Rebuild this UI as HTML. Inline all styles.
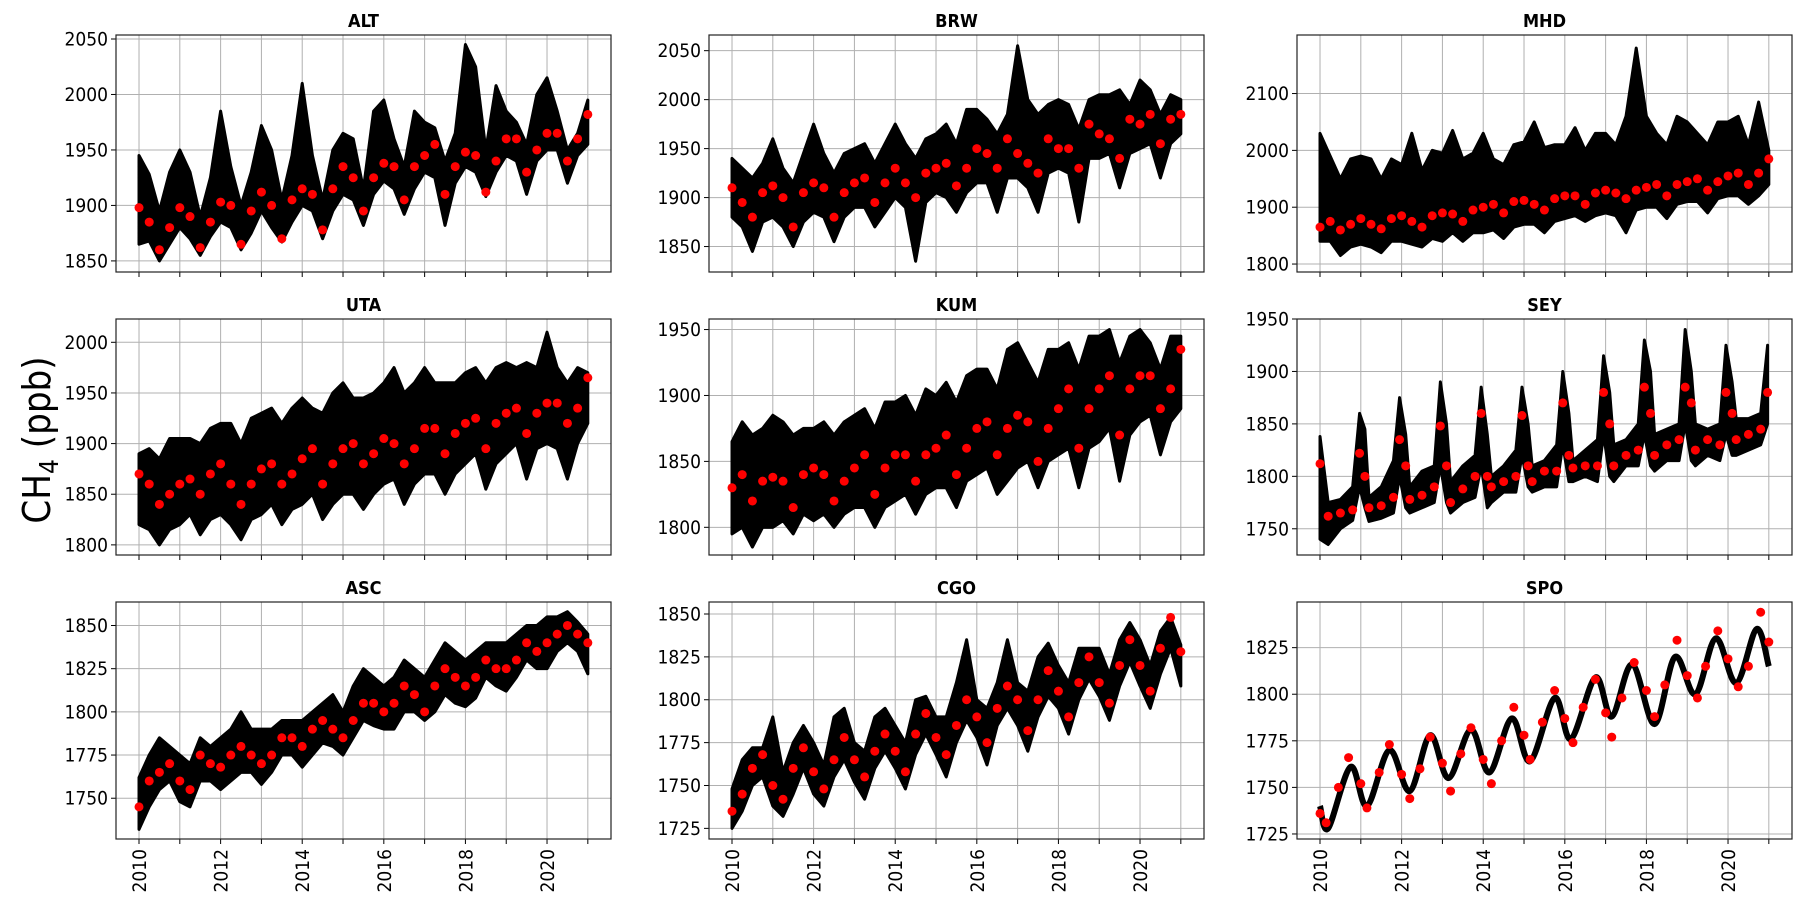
<!DOCTYPE html>
<html><head><meta charset="utf-8">
<style>
html,body{margin:0;padding:0;background:#fff;}
svg{display:block;}
text{font-family:"DejaVu Sans Condensed","Liberation Sans",sans-serif;fill:#000;}
</style></head>
<body>
<svg id="fig" width="1805" height="910" viewBox="0 0 1805 910">
<text x="0" y="0" transform="translate(50,440) rotate(-90)" text-anchor="middle" font-size="38">CH<tspan font-size="26" dy="8">4</tspan><tspan dy="-8"> (ppb)</tspan></text>
</svg>
<script>
// ---------- data ----------
const quarterTimes=[2010,2010.25,2010.5,2010.75,2011,2011.25,2011.5,2011.75,2012,2012.25,2012.5,2012.75,2013,2013.25,2013.5,2013.75,2014,2014.25,2014.5,2014.75,2015,2015.25,2015.5,2015.75,2016,2016.25,2016.5,2016.75,2017,2017.25,2017.5,2017.75,2018,2018.25,2018.5,2018.75,2019,2019.25,2019.5,2019.75,2020,2020.25,2020.5,2020.75,2021];
const yearTicks=[2010,2011,2012,2013,2014,2015,2016,2017,2018,2019,2020,2021];
const yearLabels=["2010","","2012","","2014","","2016","","2018","","2020",""];

const altRed=[1898,1885,1860,1880,1898,1890,1862,1885,1903,1900,1865,1895,1912,1900,1870,1905,1915,1910,1878,1915,1935,1925,1895,1925,1938,1935,1905,1935,1945,1955,1910,1935,1948,1945,1912,1940,1960,1960,1930,1950,1965,1965,1940,1960,1982];
const altHi=[1945,1928,1895,1930,1950,1930,1890,1925,1985,1935,1900,1930,1972,1950,1905,1945,2010,1945,1905,1950,1965,1960,1915,1985,1995,1960,1935,1985,1975,1970,1940,1965,2045,2025,1950,2008,1985,1975,1955,2000,2015,1985,1950,1965,1995];
const altLo=[1865,1868,1850,1865,1880,1870,1855,1872,1885,1880,1860,1875,1895,1880,1867,1885,1900,1895,1870,1895,1910,1905,1882,1910,1922,1915,1892,1915,1930,1925,1882,1920,1935,1930,1908,1930,1945,1940,1910,1940,1950,1950,1920,1945,1955];

const brwRed=[1910,1895,1880,1905,1912,1900,1870,1905,1915,1910,1880,1905,1915,1920,1895,1915,1930,1915,1900,1925,1930,1935,1912,1930,1950,1945,1930,1960,1945,1935,1925,1960,1950,1950,1930,1975,1965,1960,1940,1980,1975,1985,1955,1980,1985];
const brwHi=[1940,1930,1920,1935,1960,1930,1915,1945,1975,1945,1925,1945,1950,1955,1935,1955,1975,1955,1940,1960,1965,1975,1955,1990,1990,1980,1965,1985,2055,2000,1985,1995,2000,1995,1970,2000,2005,2005,2010,1995,2020,2010,1985,2005,2000];
const brwLo=[1880,1870,1845,1875,1880,1870,1850,1875,1885,1880,1855,1880,1890,1890,1870,1885,1900,1890,1835,1895,1905,1900,1885,1905,1915,1915,1885,1920,1920,1910,1885,1925,1930,1925,1875,1940,1940,1945,1910,1945,1950,1955,1920,1955,1965];

const mhdRed=[1865,1875,1860,1870,1880,1870,1862,1880,1885,1875,1865,1885,1890,1888,1875,1895,1900,1905,1890,1910,1912,1905,1895,1915,1920,1920,1905,1925,1930,1925,1915,1930,1935,1940,1920,1940,1945,1950,1930,1945,1955,1960,1940,1960,1985];
const mhdHi=[2030,1990,1950,1985,1990,1985,1950,1985,1975,2030,1965,2000,1995,2035,1985,1995,2030,1985,1975,2010,2015,2050,2005,2010,2010,2040,2000,2030,2030,2010,2060,2180,2060,2030,2010,2060,2050,2030,2010,2050,2050,2060,2010,2085,2000];
const mhdLo=[1840,1840,1815,1830,1835,1830,1820,1840,1840,1835,1830,1845,1840,1855,1840,1855,1855,1860,1845,1865,1870,1870,1855,1875,1880,1885,1875,1885,1890,1885,1855,1895,1900,1900,1880,1905,1910,1910,1890,1915,1920,1920,1905,1920,1940];

const utaRed=[1870,1860,1840,1850,1860,1865,1850,1870,1880,1860,1840,1860,1875,1880,1860,1870,1885,1895,1860,1880,1895,1900,1880,1890,1905,1900,1880,1895,1915,1915,1890,1910,1920,1925,1895,1920,1930,1935,1910,1930,1940,1940,1920,1935,1965];
const utaHi=[1890,1895,1885,1905,1905,1905,1900,1915,1920,1920,1900,1925,1930,1935,1920,1935,1945,1935,1930,1950,1960,1945,1945,1950,1960,1975,1950,1960,1975,1960,1960,1960,1970,1975,1960,1975,1980,1975,1980,1975,2010,1975,1960,1975,1970];
const utaLo=[1820,1815,1800,1815,1820,1830,1810,1825,1830,1820,1805,1825,1830,1840,1820,1835,1840,1850,1825,1840,1850,1850,1835,1850,1860,1865,1840,1860,1870,1870,1850,1870,1880,1890,1855,1880,1890,1900,1865,1895,1900,1895,1865,1900,1920];

const kumRed=[1830,1840,1820,1835,1838,1835,1815,1840,1845,1840,1820,1835,1845,1855,1825,1845,1855,1855,1835,1855,1860,1870,1840,1860,1875,1880,1855,1875,1885,1880,1850,1875,1890,1905,1860,1890,1905,1915,1870,1905,1915,1915,1890,1905,1935];
const kumHi=[1865,1880,1870,1875,1885,1880,1870,1875,1875,1880,1870,1880,1885,1890,1875,1895,1895,1900,1885,1905,1900,1910,1895,1915,1920,1920,1905,1935,1940,1925,1910,1935,1935,1940,1920,1945,1945,1950,1925,1945,1950,1940,1920,1945,1945];
const kumLo=[1795,1800,1785,1800,1800,1805,1795,1810,1805,1810,1800,1810,1815,1815,1800,1815,1820,1825,1810,1825,1830,1830,1815,1835,1840,1845,1825,1835,1845,1850,1830,1850,1855,1860,1830,1860,1865,1875,1835,1870,1880,1885,1855,1880,1890];

const seyTimes=[2010,2010.2,2010.5,2010.8,2010.97,2011.1,2011.2,2011.5,2011.8,2011.95,2012.1,2012.2,2012.5,2012.8,2012.95,2013.1,2013.2,2013.5,2013.8,2013.95,2014.1,2014.2,2014.5,2014.8,2014.95,2015.1,2015.2,2015.5,2015.8,2015.95,2016.1,2016.2,2016.5,2016.8,2016.95,2017.1,2017.2,2017.5,2017.8,2017.95,2018.1,2018.2,2018.5,2018.8,2018.95,2019.1,2019.2,2019.5,2019.8,2019.95,2020.1,2020.2,2020.5,2020.8,2020.97];
const seyRed=[1812,1762,1765,1768,1822,1800,1770,1772,1780,1835,1810,1778,1782,1790,1848,1810,1775,1788,1800,1860,1800,1790,1795,1800,1858,1810,1795,1805,1805,1870,1820,1808,1810,1810,1880,1850,1810,1820,1825,1885,1860,1820,1830,1835,1885,1870,1825,1835,1830,1880,1860,1835,1840,1845,1880];
const seyHi=[1838,1775,1778,1790,1860,1845,1780,1790,1815,1875,1840,1790,1805,1810,1890,1850,1795,1810,1820,1885,1840,1800,1810,1825,1885,1850,1810,1815,1830,1900,1860,1815,1825,1835,1915,1880,1830,1835,1850,1930,1900,1840,1845,1850,1940,1900,1850,1845,1850,1925,1890,1855,1855,1860,1925];
const seyLo=[1740,1735,1750,1758,1790,1770,1757,1760,1765,1800,1770,1765,1770,1775,1810,1775,1765,1775,1780,1810,1770,1775,1785,1785,1820,1790,1785,1790,1790,1830,1795,1795,1800,1795,1840,1800,1795,1810,1810,1840,1810,1805,1815,1815,1850,1815,1810,1820,1815,1840,1820,1820,1825,1830,1850];

const ascRed=[1745,1760,1765,1770,1760,1755,1775,1770,1768,1775,1780,1775,1770,1775,1785,1785,1780,1790,1795,1790,1785,1795,1805,1805,1800,1805,1815,1810,1800,1815,1825,1820,1815,1820,1830,1825,1825,1830,1840,1835,1840,1845,1850,1845,1840];
const ascHi=[1762,1775,1785,1780,1775,1770,1785,1780,1785,1790,1800,1790,1790,1790,1795,1795,1795,1800,1805,1810,1800,1815,1825,1820,1815,1820,1830,1825,1820,1830,1840,1835,1830,1835,1840,1840,1840,1845,1850,1850,1855,1855,1858,1852,1845];
const ascLo=[1732,1745,1755,1760,1748,1745,1760,1760,1755,1760,1765,1765,1758,1765,1775,1775,1768,1775,1782,1780,1775,1785,1795,1792,1790,1790,1800,1800,1795,1800,1810,1805,1803,1808,1820,1815,1812,1820,1830,1825,1825,1835,1840,1835,1822];

const cgoRed=[1735,1745,1760,1768,1750,1742,1760,1772,1758,1748,1765,1778,1765,1755,1770,1780,1770,1758,1780,1792,1778,1768,1785,1800,1790,1775,1795,1808,1800,1782,1800,1817,1805,1790,1810,1825,1810,1798,1820,1835,1820,1805,1830,1848,1828];
const cgoHi=[1748,1765,1772,1772,1790,1758,1775,1785,1775,1762,1790,1795,1775,1770,1790,1795,1785,1775,1800,1802,1790,1790,1810,1835,1800,1795,1810,1835,1810,1805,1825,1833,1820,1810,1830,1830,1830,1815,1835,1845,1835,1820,1840,1848,1832];
const cgoLo=[1725,1735,1750,1755,1738,1732,1745,1760,1745,1738,1755,1765,1752,1742,1760,1770,1760,1748,1768,1780,1768,1755,1775,1788,1778,1762,1785,1795,1785,1770,1790,1802,1795,1780,1800,1812,1802,1788,1808,1822,1808,1795,1815,1830,1808];

const spoLineTimes=[2010,2010.2,2010.75,2011.15,2011.7,2012.2,2012.7,2013.15,2013.7,2014.15,2014.7,2015.15,2015.75,2016.15,2016.75,2017.15,2017.65,2018.2,2018.7,2019.2,2019.7,2020.2,2020.7,2021];
const spoLine=[1740,1728,1761,1740,1770,1748,1778,1755,1781,1758,1787,1764,1798,1776,1809,1788,1816,1784,1820,1800,1830,1806,1835,1815];
const spoRedTimes=[2010,2010.15,2010.45,2010.7,2011.0,2011.15,2011.45,2011.7,2012.0,2012.2,2012.45,2012.7,2013.0,2013.2,2013.45,2013.7,2014.0,2014.2,2014.45,2014.75,2015.0,2015.15,2015.45,2015.75,2016.0,2016.2,2016.45,2016.75,2017.0,2017.15,2017.4,2017.7,2018.0,2018.2,2018.45,2018.75,2019.0,2019.25,2019.45,2019.75,2020.0,2020.25,2020.5,2020.8,2021.0];
const spoRed=[1736,1731,1750,1766,1752,1739,1758,1773,1757,1744,1760,1777,1763,1748,1768,1782,1765,1752,1775,1793,1778,1765,1785,1802,1787,1774,1793,1808,1790,1777,1798,1817,1802,1788,1805,1829,1810,1798,1815,1834,1819,1804,1815,1844,1828];

// ---------- layout ----------
const W=495;
const colX=[116,709,1297];
const rowY=[[35,272],[319,555],[602,839]];
const X0=2009.436, X1=2021.568;
const panels=[
 {name:"ALT",c:0,r:0,ymin:1840,ymax:2053.6,ticks:[1850,1900,1950,2000,2050],t:quarterTimes,red:altRed,hi:altHi,lo:altLo},
 {name:"BRW",c:1,r:0,ymin:1824,ymax:2066,ticks:[1850,1900,1950,2000,2050],t:quarterTimes,red:brwRed,hi:brwHi,lo:brwLo},
 {name:"MHD",c:2,r:0,ymin:1786,ymax:2203,ticks:[1800,1900,2000,2100],t:quarterTimes,red:mhdRed,hi:mhdHi,lo:mhdLo},
 {name:"UTA",c:0,r:1,ymin:1790,ymax:2023,ticks:[1800,1850,1900,1950,2000],t:quarterTimes,red:utaRed,hi:utaHi,lo:utaLo},
 {name:"KUM",c:1,r:1,ymin:1779,ymax:1958,ticks:[1800,1850,1900,1950],t:quarterTimes,red:kumRed,hi:kumHi,lo:kumLo},
 {name:"SEY",c:2,r:1,ymin:1725,ymax:1950,ticks:[1750,1800,1850,1900,1950],t:seyTimes,red:seyRed,hi:seyHi,lo:seyLo},
 {name:"ASC",c:0,r:2,ymin:1726.4,ymax:1863.6,ticks:[1750,1775,1800,1825,1850],t:quarterTimes,red:ascRed,hi:ascHi,lo:ascLo},
 {name:"CGO",c:1,r:2,ymin:1718.8,ymax:1857,ticks:[1725,1750,1775,1800,1825,1850],t:quarterTimes,red:cgoRed,hi:cgoHi,lo:cgoLo},
 {name:"SPO",c:2,r:2,ymin:1722.3,ymax:1849.5,ticks:[1725,1750,1775,1800,1825],line:true,lt:spoLineTimes,lv:spoLine,t:spoRedTimes,red:spoRed}
];
const NS="http://www.w3.org/2000/svg";
const svg=document.getElementById('fig');
function mk(tag,attrs,parent){const e=document.createElementNS(NS,tag);for(const k in attrs)e.setAttribute(k,attrs[k]);(parent||svg).appendChild(e);return e;}

panels.forEach(p=>{
  const L=colX[p.c], T=rowY[p.r][0], B=rowY[p.r][1], H=B-T;
  const xs=v=>L+(v-X0)/(X1-X0)*W;
  const ys=v=>B-(v-p.ymin)/(p.ymax-p.ymin)*H;
  const g=mk('g',{});
  
  
  const cid='clip'+p.name;
  const cp=mk('clipPath',{id:cid},g);mk('rect',{x:L,y:T,width:W,height:H},cp);
  yearTicks.forEach((yr,i)=>{
    const x=xs(yr);
    const gl=mk('line',{x1:x,x2:x,y1:T,y2:B,stroke:'#b0b0b0','stroke-width':1},g);
    
    
    mk('line',{x1:x,x2:x,y1:B,y2:B+5,stroke:'#000','stroke-width':1},g);
    if(p.r===2&&yearLabels[i]){
      const tl=mk('text',{transform:`translate(${x+7},${B+10}) rotate(-90)`,'text-anchor':'end','font-size':19},g);
      tl.textContent=yearLabels[i];
      
      
    }
  });
  p.ticks.forEach(v=>{
    const y=ys(v);
    const gl=mk('line',{x1:L,x2:L+W,y1:y,y2:y,stroke:'#b0b0b0','stroke-width':1},g);
    
    
    mk('line',{x1:L-5,x2:L,y1:y,y2:y,stroke:'#000','stroke-width':1},g);
    const tl=mk('text',{x:L-8,y:y+6.5,'text-anchor':'end','font-size':19},g);
    tl.textContent=String(v);
    
    
  });
  const dg=mk('g',{'clip-path':`url(#${cid})`},g);
  if(p.line){
    const pts=p.lt.map((t,i)=>[xs(t),ys(p.lv[i])]);
    let d=`M${pts[0][0]},${pts[0][1]}`;
    for(let i=0;i<pts.length-1;i++){
      const p0=pts[Math.max(0,i-1)],p1=pts[i],p2=pts[i+1],p3=pts[Math.min(pts.length-1,i+2)];
      const c1=[p1[0]+(p2[0]-p0[0])/6,p1[1]+(p2[1]-p0[1])/6];
      const c2=[p2[0]-(p3[0]-p1[0])/6,p2[1]-(p3[1]-p1[1])/6];
      d+=`C${c1[0]},${c1[1]} ${c2[0]},${c2[1]} ${p2[0]},${p2[1]}`;
    }
    const ln=mk('path',{d:d,fill:'none',stroke:'#000','stroke-width':6,'stroke-linejoin':'round'},dg);
    
    
  } else {
    let d='M';
    p.t.forEach((t,i)=>{d+=`${xs(t)},${ys(p.hi[i])} L`;});
    for(let i=p.t.length-1;i>=0;i--){d+=`${xs(p.t[i])},${ys(p.lo[i])}`+(i>0?' L':'');}
    d+='Z';
    const band=mk('path',{d:d,fill:'#000',stroke:'#000','stroke-width':3,'stroke-linejoin':'round'},dg);
    
    
  }
  p.t.forEach((t,i)=>{
    const c=mk('circle',{cx:xs(t),cy:ys(p.red[i]),r:4.5,fill:'#ff0000'},dg);
    
    
  });
  const fr=mk('rect',{x:L,y:T,width:W,height:H,fill:'none',stroke:'#222','stroke-width':1.2},g);
  
  
  const ti=mk('text',{x:L+W/2,y:T-8,'text-anchor':'middle','font-size':18,'font-weight':'bold'},g);
  ti.textContent=p.name;
  
  
});
</script>
</body></html>
